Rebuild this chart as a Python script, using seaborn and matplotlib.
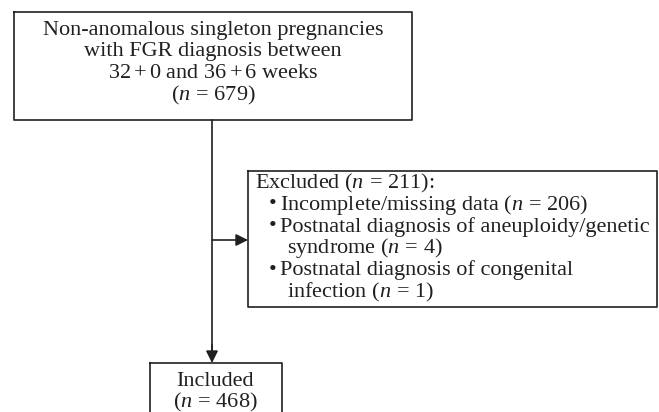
import matplotlib
matplotlib.use("Agg")
import matplotlib.pyplot as plt
import seaborn as sns
import pandas as pd

# ---- data ----
n_total = 679
gest_from = "32+0"
gest_to = "36+6"
n_excluded = 211
excl_reasons = ["Incomplete/missing data",
                "Postnatal diagnosis of aneuploidy/genetic\nsyndrome",
                "Postnatal diagnosis of congenital\ninfection"]
excl_counts = [206, 4, 1]
n_included = 468

sns.set_theme(style="white")
plt.rcParams["font.family"] = ["Liberation Serif", "DejaVu Serif"]
plt.rcParams["mathtext.fontset"] = "custom"
plt.rcParams["mathtext.it"] = "Liberation Serif:italic"
plt.rcParams["mathtext.rm"] = "Liberation Serif"

W, H = 659, 412
fig = plt.figure(figsize=(W / 100, H / 100), dpi=100)
ax = fig.add_axes([0, 0, 1, 1])
ax.set_xlim(0, W)
ax.set_ylim(H, 0)
ax.axis("off")

FS = 16
LS = 21.8
col = "#231f20"

def nlab(n):
    return r"($\mathit{n}\,{=}\,$" + f"{n})"

def gest(g):
    return "$" + g + "$"

def box(x0, y0, x1, y1):
    df = pd.DataFrame({"x": [x0, x1, x1, x0, x0], "y": [y0, y0, y1, y1, y0], "o": range(5)})
    sns.lineplot(data=df, x="x", y="y", sort=False, estimator=None, color=col, lw=1.2, ax=ax)

# top box
box(14, 12, 412, 120)
top_lines = ["Non-anomalous singleton pregnancies",
             "with FGR diagnosis between",
             f"{gest(gest_from)} and {gest(gest_to)} weeks",
             nlab(n_total)]
for i, t in enumerate(top_lines):
    ax.text(213, 30 + i * LS, t, ha="center", va="center", fontsize=FS, color=col)

# excluded box
box(248, 171, 657, 307)
ax.text(255, 183, "Excluded " + nlab(n_excluded) + ":", ha="left", va="center", fontsize=FS, color=col)
y = 183 + LS
for reason, c in zip(excl_reasons, excl_counts):
    lines = reason.split("\n")
    lines[-1] = lines[-1] + " " + nlab(c)
    for j, ln in enumerate(lines):
        if j == 0:
            ax.text(269, y, "\u2022", ha="left", va="center", fontsize=FS, color=col)
        ax.text(280 if j == 0 else 287, y, ln, ha="left", va="center", fontsize=FS, color=col)
        y += LS

# included box
box(150, 363, 282, 430)
ax.text(215, 381, "Included", ha="center", va="center", fontsize=FS, color=col)
ax.text(215, 402, nlab(n_included), ha="center", va="center", fontsize=FS, color=col)

# connectors
conn = pd.DataFrame({"x": [212, 212], "y": [120, 352]})
sns.lineplot(data=conn, x="x", y="y", sort=False, estimator=None, color=col, lw=1.2, ax=ax)
ax.annotate("", xy=(212, 363), xytext=(212, 345),
            arrowprops=dict(arrowstyle="-|>", color=col, lw=1.2, mutation_scale=18, shrinkA=0, shrinkB=0))
ax.annotate("", xy=(248, 240), xytext=(212, 240),
            arrowprops=dict(arrowstyle="-|>", color=col, lw=1.2, mutation_scale=18, shrinkA=0, shrinkB=0))

ax.set_xlabel("")
ax.set_ylabel("")
fig.savefig("out.png", dpi=100)
